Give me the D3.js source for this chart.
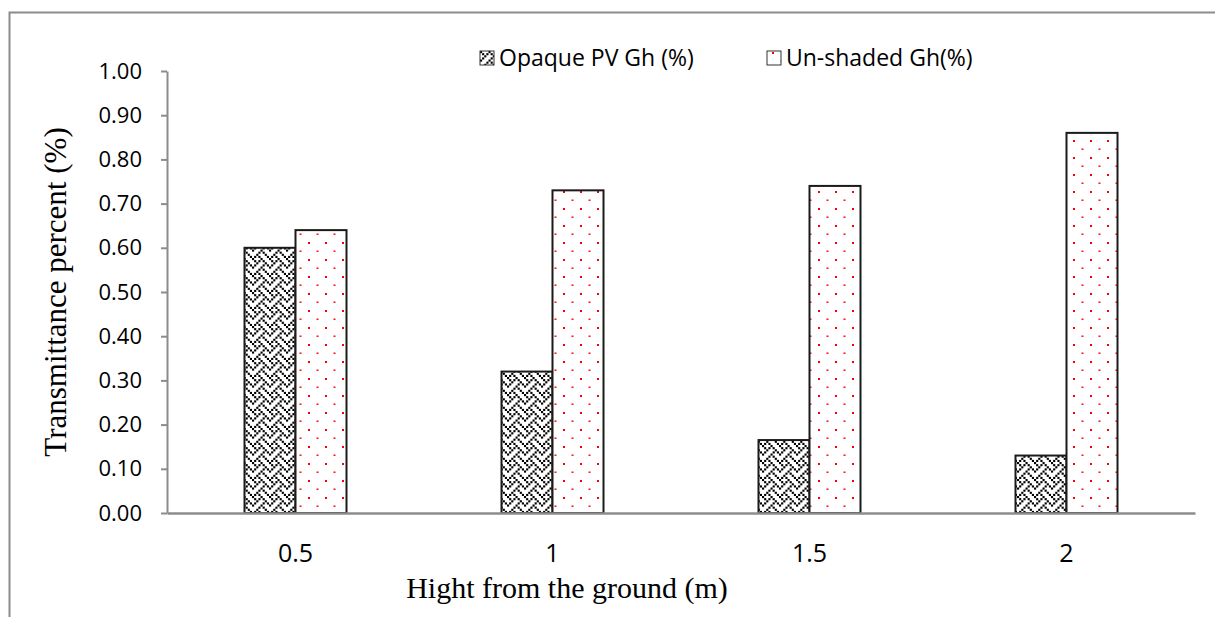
<!DOCTYPE html>
<html>
<head>
<meta charset="utf-8">
<script src="https://d3js.org/d3.v7.min.js"></script>
<style>
  body { margin: 0; background: #fff; }
  svg { display: block; }
</style>
</head>
<body>
<svg id="chart" width="1215" height="617"></svg>
<script>
  const heights = ["0.5", "1", "1.5", "2"];
  const opaque = [0.60, 0.32, 0.165, 0.13];
  const unshaded = [0.64, 0.73, 0.74, 0.86];
  const seriesNames = ["Opaque PV Gh (%)", "Un-shaded Gh(%)"];
  const yTicks = [0, 0.1, 0.2, 0.3, 0.4, 0.5, 0.6, 0.7, 0.8, 0.9, 1.0];

  const svg = d3.select("#chart");
  const margin = { top: 71, right: 20, bottom: 104, left: 167 };
  const width = 1195 - margin.left;
  const height = 513 - margin.top;

  const defs = svg.append("defs");

  // weave fill, 8x8 bitmap scaled up like the Excel pattern
  const weaveBits = [
    "10001000",
    "01010100",
    "00100010",
    "01000101",
    "10001000",
    "00010100",
    "00100010",
    "01010001"
  ];
  const cell = 17 / 8;
  const wv = defs.append("pattern")
    .attr("id", "weave")
    .attr("patternUnits", "userSpaceOnUse")
    .attr("width", 17).attr("height", 17);
  wv.append("rect").attr("width", 17).attr("height", 17).attr("fill", "#fff");
  weaveBits.forEach((row, r) => {
    row.split("").forEach((b, c) => {
      if (b === "1") {
        wv.append("rect")
          .attr("x", c * cell).attr("y", r * cell)
          .attr("width", cell).attr("height", cell)
          .attr("fill", "#000");
      }
    });
  });

  // red dots, offset rows
  const dots = defs.append("pattern")
    .attr("id", "dots")
    .attr("patternUnits", "userSpaceOnUse")
    .attr("width", 17).attr("height", 17);
  dots.append("rect").attr("width", 17).attr("height", 17).attr("fill", "#fff");
  dots.append("rect").attr("x", 5).attr("y", 1).attr("width", 2).attr("height", 2).attr("fill", "#f00");
  dots.append("rect").attr("x", 13.5).attr("y", 9.5).attr("width", 2).attr("height", 1.4).attr("fill", "#f00");

  // outer chart frame (runs off the page at right and bottom)
  svg.append("path")
    .attr("d", "M9.5,630 L9.5,12.5 L1230,12.5")
    .attr("fill", "none").attr("stroke", "#8c8c8c").attr("stroke-width", 2);

  const g = svg.append("g").attr("transform", `translate(${margin.left},${margin.top})`);

  const x = d3.scaleBand().domain(heights).range([0, width]).paddingInner(0).paddingOuter(0);
  const y = d3.scaleLinear().domain([0, 1]).range([height, 0]);
  const barW = 51;

  const rows = heights.map((h, i) => ({ h, v: [opaque[i], unshaded[i]] }));
  const fills = ["url(#weave)", "url(#dots)"];

  rows.forEach(r => {
    r.v.forEach((v, k) => {
      const cx = x(r.h) + x.bandwidth() / 2;
      g.append("rect")
        .attr("x", cx - barW + k * barW)
        .attr("y", y(v))
        .attr("width", barW)
        .attr("height", height - y(v))
        .attr("fill", fills[k])
        .attr("stroke", "#1a1a1a")
        .attr("stroke-width", 2);
    });
  });

  // y axis
  const yAxis = g.append("g")
    .call(d3.axisLeft(y).tickValues(yTicks).tickSize(6).tickSizeOuter(0).tickFormat(d3.format(".2f")));
  yAxis.select(".domain").attr("stroke", "#8c8c8c").attr("stroke-width", 2);
  yAxis.selectAll(".tick line").attr("stroke", "#8c8c8c").attr("stroke-width", 2);
  yAxis.selectAll(".tick text")
    .attr("x", -25)
    .attr("fill", "#000")
    .style("font-family", "'Open Sans', 'Liberation Sans', sans-serif")
    .style("font-size", "22px");

  // x axis
  const xAxis = g.append("g")
    .attr("transform", `translate(0,${height})`)
    .call(d3.axisBottom(x).tickSize(0).tickSizeOuter(0));
  xAxis.select(".domain").attr("stroke", "#8c8c8c").attr("stroke-width", 2.5);
  xAxis.selectAll(".tick text")
    .attr("dy", 0).attr("y", 49)
    .attr("fill", "#000")
    .style("font-family", "'Open Sans', 'Liberation Sans', sans-serif")
    .style("font-size", "25px");

  // axis titles
  svg.append("text")
    .attr("x", 567).attr("y", 598)
    .attr("text-anchor", "middle")
    .style("font-family", "'Liberation Serif', 'Times New Roman', serif")
    .style("font-size", "30px")
    .text("Hight from the ground (m)");

  svg.append("text")
    .attr("transform", "translate(66,292) rotate(-90)")
    .attr("text-anchor", "middle")
    .style("font-family", "'Liberation Serif', 'Times New Roman', serif")
    .style("font-size", "31px")
    .text("Transmittance percent (%)");

  // legend
  const legendX = [480, 767];
  seriesNames.forEach((name, k) => {
    const lg = svg.append("g").attr("transform", `translate(${legendX[k]},51)`);
    lg.append("rect")
      .attr("width", 14).attr("height", 14)
      .attr("fill", fills[k])
      .attr("stroke", "#333").attr("stroke-width", 1);
    lg.append("text")
      .attr("x", 19).attr("y", 15)
      .style("font-family", "'Open Sans', 'Liberation Sans', sans-serif")
      .style("font-size", "23px")
      .text(name);
  });
</script>
</body>
</html>
